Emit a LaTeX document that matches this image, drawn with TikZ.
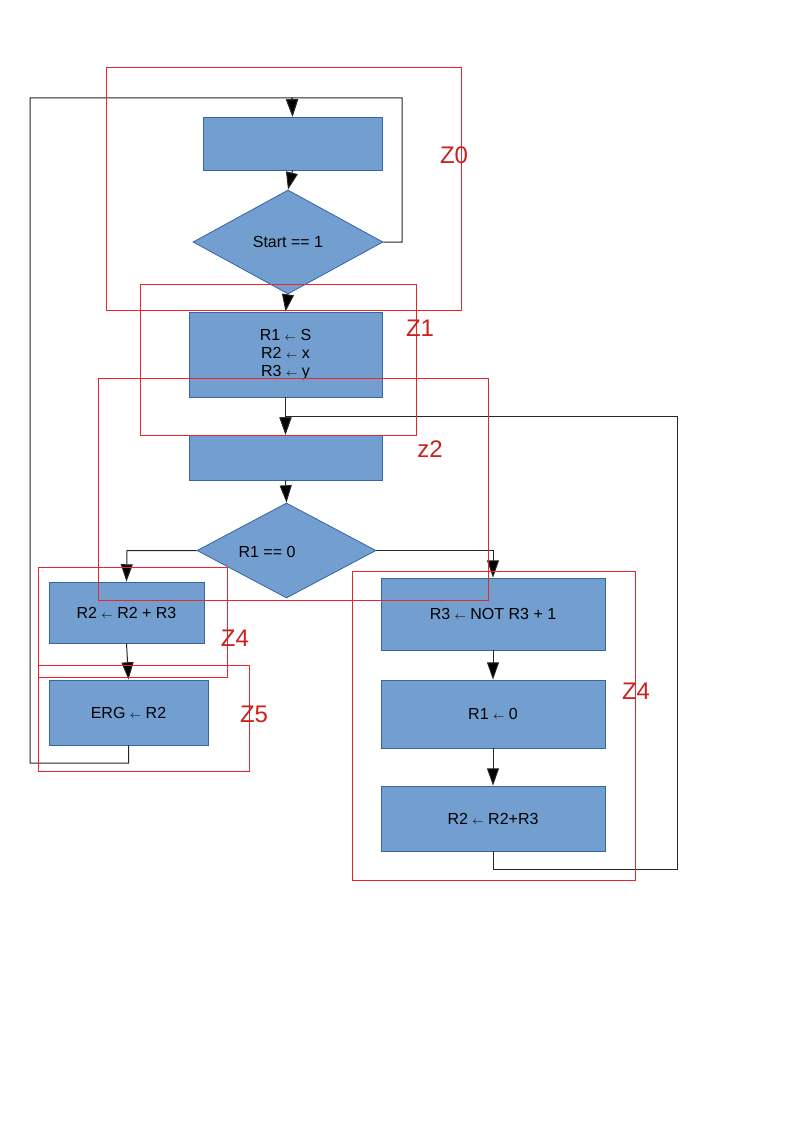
\documentclass[tikz,border=0pt]{standalone}
\usepackage{fontspec}
\setmainfont{Liberation Sans}
\usetikzlibrary{shapes.geometric,arrows.meta}
\definecolor{boxfill}{HTML}{729FCF}
\definecolor{boxline}{HTML}{3465A4}
\definecolor{zoneline}{HTML}{E8262A}
\definecolor{zonetext}{HTML}{C9211E}
\newcommand{\asg}{{\fontsize{8}{8}\selectfont$\leftarrow$}}
\begin{document}
\begin{tikzpicture}[x=0.75pt,y=-0.75pt,
  box/.style={rectangle, draw=boxline, fill=boxfill, line width=0.6pt, inner sep=0pt,
    font=\fontsize{12}{13.5}\selectfont, align=center},
  dia/.style={diamond, draw=boxline, fill=boxfill, line width=0.6pt, inner sep=0pt,
    font=\fontsize{12}{13.5}\selectfont},
  flow/.style={draw=black!85, line width=0.75pt, -{Triangle[length=13pt,width=9pt,fill=black]}},
  zone/.style={draw=zoneline, line width=0.75pt},
  zlabel/.style={text=zonetext, font=\fontsize{18}{20}\selectfont, inner sep=0pt}
]
\useasboundingbox (0,0) rectangle (794,1123);

% nodes
\node[box, minimum width=179*0.75pt, minimum height=53*0.75pt] (b1) at (292.5,143.5) {};
\node[dia, minimum width=190*0.75pt, minimum height=104*0.75pt] (d1) at (288,242) {};
\node[font=\fontsize{12}{13.5}\selectfont, inner sep=0pt] (d1t) at (288,242) {Start == 1};
\node[box, minimum width=193*0.75pt, minimum height=85*0.75pt] (b2) at (285.5,354.5) {R1 \asg{} S\\R2 \asg{} x\\R3 \asg{} y};
\node[box, minimum width=193*0.75pt, minimum height=45*0.75pt] (b3) at (285.5,457.5) {};
\node[dia, minimum width=179*0.75pt, minimum height=95*0.75pt] (d2) at (286.5,550.5) {};
\node[font=\fontsize{12}{13.5}\selectfont, inner sep=0pt] (d2t) at (267,552) {R1 == 0};
\node[box, minimum width=155*0.75pt, minimum height=61*0.75pt] (l1) at (126.5,612.5) {R2 \asg{} R2 + R3};
\node[box, minimum width=159*0.75pt, minimum height=65*0.75pt] (l2) at (128.5,712.5) {ERG \asg{} R2};
\node[box, minimum width=224*0.75pt, minimum height=72*0.75pt] (r1) at (493,614) {R3 \asg{} NOT R3 + 1};
\node[box, minimum width=224*0.75pt, minimum height=68*0.75pt] (r2) at (493,714) {R1 \asg{} 0};
\node[box, minimum width=224*0.75pt, minimum height=65*0.75pt] (r3) at (493,818.5) {R2 \asg{} R2+R3};

% connectors
\coordinate (top) at (292,98);
\coordinate (join) at (285.5,416);
\draw[flow] (d1.east) -- (402,242) -- (402,98) -- (top) -- (b1.north);
\draw[flow] (l2.south) -- (128.5,763) -- (30,763) -- (30,98) -- (top) -- (b1.north);
\draw[flow] (b1.south) -- (d1.north);
\draw[flow] (d1.south) -- (b2.north);
\draw[flow] (b2.south) -- (b3.north);
\draw[flow] (r3.south) -- (493,869) -- (677,869) -- (677,416) -- (join) -- (b3.north);
\draw[flow] (b3.south) -- (d2.north);
\draw[flow] (d2.west) -- (127,550.5) -- (l1.north);
\draw[flow] (l1.south) -- (l2.north);
\draw[flow] (d2.east) -- (493,550.5) -- (r1.north);
\draw[flow] (r1.south) -- (r2.north);
\draw[flow] (r2.south) -- (r3.north);

% zones
\draw[zone] (106,68) rectangle (461,310);
\draw[zone] (140,284) rectangle (416,435);
\draw[zone] (98,378) rectangle (488,600);
\draw[zone] (38,567) rectangle (227,677);
\draw[zone] (38,665) rectangle (249,771);
\draw[zone] (352,571) rectangle (635,880);
\node[zlabel] (z0) at (454,155) {Z0};
\node[zlabel] (z1) at (420,328) {Z1};
\node[zlabel] (z2) at (430,449) {z2};
\node[zlabel] (z4a) at (235,638) {Z4};
\node[zlabel] (z5) at (254,714) {Z5};
\node[zlabel] (z4b) at (636,691) {Z4};
\end{tikzpicture}
\end{document}
